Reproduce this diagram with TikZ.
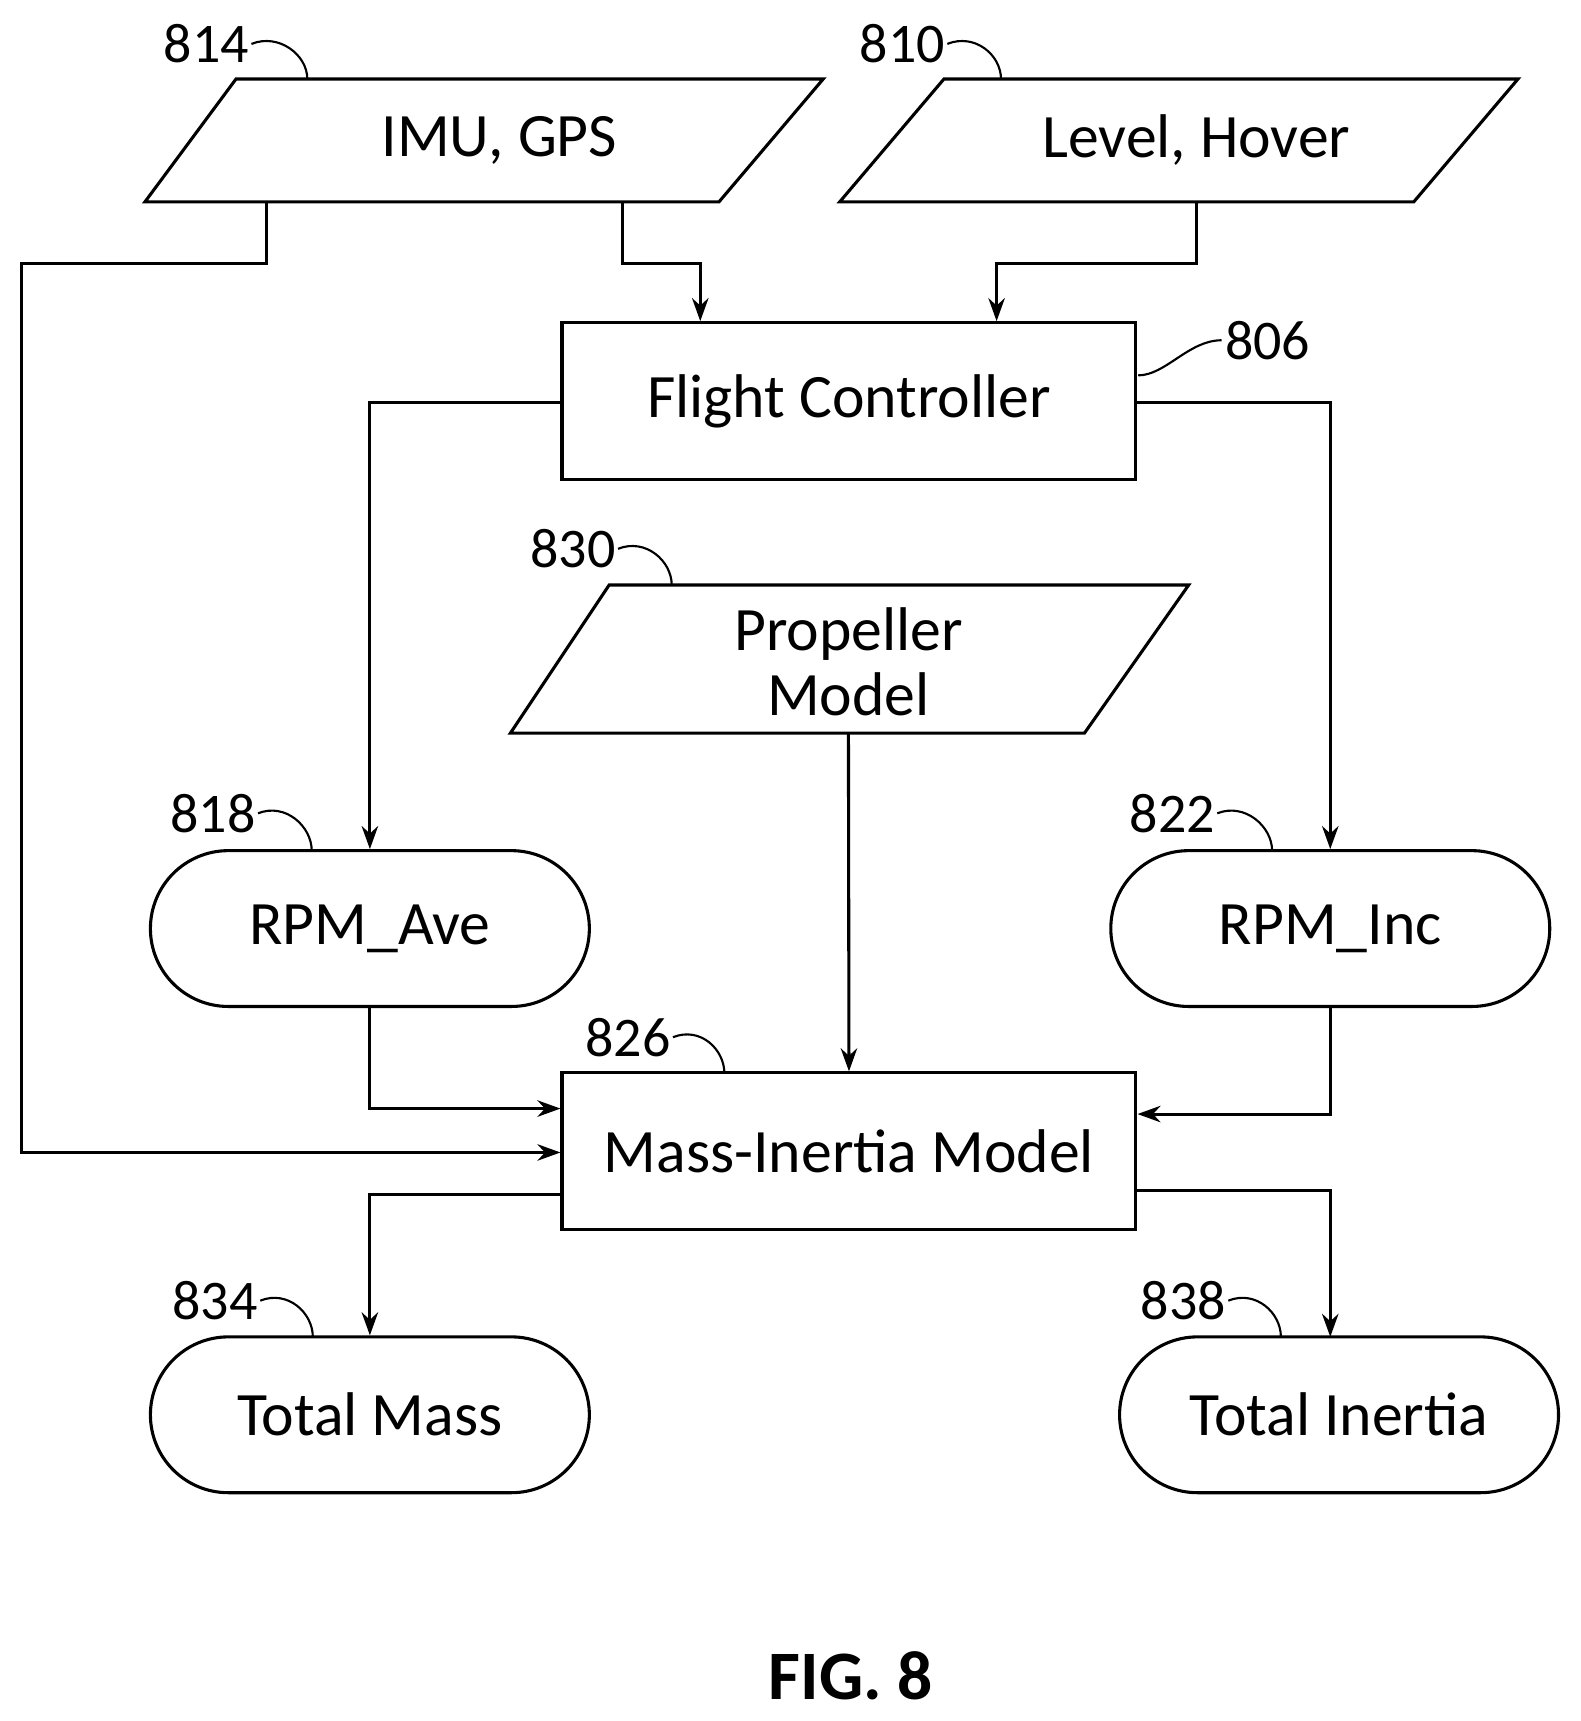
\documentclass[tikz,border=0pt]{standalone}
\usepackage{fontspec}
\setmainfont{Carlito}
\usetikzlibrary{arrows.meta}
\begin{document}
\begin{tikzpicture}[x=0.02cm,y=-0.02cm,
  ln/.style={line width=1.6pt},
  arr/.style={ln,-{Stealth[length=0.42cm,width=0.3cm]}},
  box/.style={ln,draw,minimum width=10.46cm,minimum height=2.86cm,inner sep=0pt,font=\fontsize{32}{38}\selectfont},
  pill/.style={ln,draw,minimum width=8cm,minimum height=2.84cm,rounded corners=1.42cm,inner sep=0pt,font=\fontsize{32}{38}\selectfont},
  txt/.style={font=\fontsize{32}{38}\selectfont,align=center},
  lab/.style={font=\fontsize{29}{34}\selectfont,inner sep=0pt},
  lead/.style={line width=1.1pt}]
\useasboundingbox (0,0) rectangle (1440,1568);
% parallelograms
\draw[ln] (215,72) -- (750,72) -- (655,184) -- (132,184) -- cycle;
\node[txt] (imu) at (455,128) {IMU, GPS};
\draw[ln] (860,72) -- (1383,72) -- (1288,184) -- (765,184) -- cycle;
\node[txt] (lvl) at (1090,128) {Level, Hover};
\draw[ln] (555,533) -- (1083,533) -- (988,668) -- (465,668) -- cycle;
\node[txt,inner sep=0pt] (prop) at (773,603) {Propeller\\[-4pt]Model};
% boxes
\node[box] (fc) at (773.5,365.5) {Flight Controller};
\node[box] (mi) at (773.5,1049) {Mass-Inertia Model};
\node[pill] (ave) at (337,846) {RPM\_Ave};
\node[pill] (inc) at (1212,846) {RPM\_Inc};
\node[pill] (tm) at (337,1289) {Total Mass};
\node[pill] (ti) at (1220,1289) {Total Inertia};
\node[font=\fontsize{36}{40}\selectfont\bfseries] (fig) at (775,1527) {FIG. 8};
% connector coordinates
\coordinate (imuA) at (243,184);
\coordinate (imuB) at (567,184);
\coordinate (lvlA) at (1090,184);
\coordinate (propB) at (773,668);
% connectors
\draw[arr] (imuA) -- (243,240) -- (20,240) -- (20,1050) -- (mi.west |- 0,1050);
\draw[arr] (imuB) -- (567,240) -- (638,240) -- (fc.north -| 638,0);
\draw[arr] (lvlA) -- (1090,240) -- (908,240) -- (fc.north -| 908,0);
\draw[arr] (fc.west |- 0,367) -- (337,367) -- (ave.north);
\draw[arr] (fc.east |- 0,367) -- (1212,367) -- (inc.north);
\draw[arr] (propB) -- (mi.north);
\draw[arr] (ave.south) -- (337,1010) -- (mi.west |- 0,1010);
\draw[arr] (inc.south) -- (1212,1015) -- (mi.east |- 0,1015);
\draw[arr] (mi.west |- 0,1088) -- (337,1088) -- (tm.north);
\draw[arr] (mi.east |- 0,1085) -- (1212,1085) -- (1212,1218);
% labels
\node[lab] (l814) at (188,40) {814};
\node[lab] (l810) at (822,40) {810};
\node[lab] (l806) at (1155,310) {806};
\node[lab] (l830) at (522,500) {830};
\node[lab] (l818) at (194,741) {818};
\node[lab] (l822) at (1068,741) {822};
\node[lab] (l826) at (572,945) {826};
\node[lab] (l834) at (196,1185) {834};
\node[lab] (l838) at (1078,1185) {838};
\foreach \n/\x/\y in {l814/280/72, l810/912/72, l830/612/533, l818/284/775, l822/1159/775, l826/660/978, l834/285/1218, l838/1167/1218}{
  \draw[lead] (\n.east) ++(2,0) .. controls ++(25,-10) and ++(0,-22) .. (\x,\y);
}
\draw[lead] (l806.west) ++(-3,0) .. controls ++(-30,0) and ++(25,0) .. (1037,342);
\end{tikzpicture}
\end{document}
